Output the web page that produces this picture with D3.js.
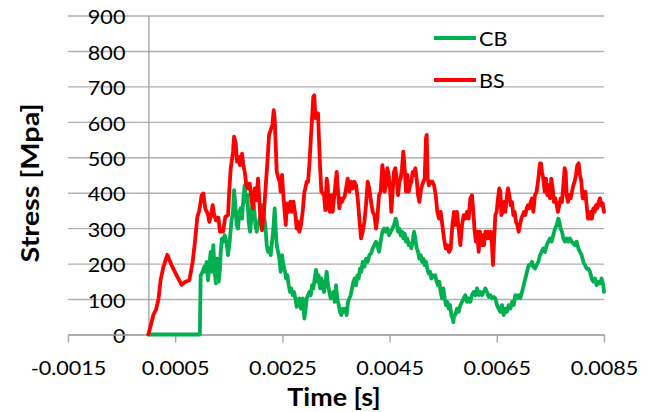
<!DOCTYPE html>
<html>
<head>
<meta charset="utf-8">
<script src="https://cdn.jsdelivr.net/npm/d3@7"></script>
<style>
  html, body { margin: 0; padding: 0; background: #fff; }
  svg { display: block; }
  text { font-family: Lato, "Open Sans", sans-serif; fill: #000; }
</style>
</head>
<body>
<svg id="chart" width="654" height="412"></svg>
<script>
// Time axis ticks (s) and their printed labels
const timeTicks = [-0.0015, 0.0005, 0.0025, 0.0045, 0.0065, 0.0085];
const timeTickLabels = ["-0.0015", "0.0005", "0.0025", "0.0045", "0.0065", "0.0085"];
const stressTicks = [0, 100, 200, 300, 400, 500, 600, 700, 800, 900];

const seriesNames = ["CB", "BS"];
const seriesColors = ["#00B050", "#FF0000"];

// BS stress history: [time in microseconds, stress in MPa]
const bsStress = [
  [0,0],[92,55],[142,70],[188,100],[229,155],[279,190],[353,225],[434,195],[527,167],[621,140],[683,148],[764,153],[826,205],[869,262],[913,332],[950,350],[994,393],[1025,398],[1062,355],[1106,341],[1137,318],[1168,335],[1199,365],[1224,340],[1261,322],[1305,330],[1336,290],
  [1392,290],[1436,332],[1486,337],[1504,393],[1535,468],[1579,515],[1598,558],[1629,540],[1654,487],[1685,501],[1710,478],[1747,510],[1772,478],[1797,459],[1828,421],[1859,412],[1890,426],[1921,384],[1952,356],[1983,412],[2014,379],[2045,440],[2064,393],[2089,327],[2120,294],[2151,337],[2182,403],[2220,487],[2251,563],[2282,577],[2313,591],[2338,633],[2356,610],[2375,536],[2394,459],[2419,445],[2450,431],[2468,403],[2493,450],[2518,393],[2543,346],[2562,309],[2587,370],[2618,346],[2649,375],[2680,346],[2705,375],[2742,337],[2767,299],[2792,318],
  [2816,290],[2847,309],[2878,346],[2910,403],[2928,412],[2953,431],[2978,431],[3003,478],[3028,544],[3053,610],[3077,671],[3096,675],[3115,610],[3140,619],[3165,624],[3177,572],[3202,478],[3227,403],[3252,398],[3276,393],[3301,351],[3326,440],[3345,421],[3364,356],[3388,346],[3413,393],[3438,346],[3463,384],[3488,421],[3513,459],[3538,403],[3563,356],[3587,384],[3612,374],[3637,384],[3662,389],[3687,412],[3718,440],[3749,403],[3780,431],[3811,412],[3843,431],[3874,421],[3905,384],[3936,327],[3967,271],[3998,290],[4029,318],[4060,365],[4091,431],[4122,412],[4154,374],[4185,346],[4216,337],[4247,299],
  [4271,327],[4302,393],[4333,403],[4365,478],[4383,459],[4408,403],[4433,421],[4458,469],[4483,450],[4508,412],[4532,346],[4557,403],[4582,459],[4607,469],[4632,440],[4657,393],[4682,431],[4707,440],[4731,469],[4756,516],[4781,469],[4806,403],[4831,450],[4856,403],[4881,421],[4906,431],[4931,459],[4955,450],[4980,469],[5005,440],[5030,393],[5055,374],[5080,403],[5105,421],[5130,431],[5154,440],[5179,554],[5192,563],[5210,440],[5235,421],[5266,431],[5298,431],[5329,421],[5360,393],[5391,346],[5422,327],[5453,346],[5484,309],[5515,271],[5546,243],[5577,252],[5609,233],[5640,243],[5671,309],[5702,346],
  [5726,309],[5757,346],[5788,299],[5820,252],[5851,309],[5882,337],[5913,327],[5944,346],[5975,327],[6006,384],[6037,393],[6062,346],[6087,290],[6112,262],[6137,290],[6162,233],[6186,290],[6211,252],[6236,280],[6261,252],[6286,290],[6311,271],[6336,290],[6361,271],[6386,290],[6410,252],[6429,196],[6448,262],[6473,337],[6497,346],[6522,384],[6547,412],[6566,403],[6585,337],[6609,346],[6634,374],[6659,346],[6684,384],[6709,412],[6734,393],[6759,365],[6784,374],[6808,337],[6833,346],[6858,318],[6883,309],[6908,290],[6933,309],[6958,327],[6983,337],[7007,346],[7032,337],[7057,356],[7082,365],[7107,356],[7132,374],[7157,384],
  [7181,346],[7212,393],[7243,403],[7275,440],[7306,483],[7324,483],[7343,459],[7368,440],[7393,403],[7418,440],[7442,393],[7467,421],[7492,384],[7517,440],[7542,412],[7567,374],[7592,384],[7617,365],[7641,346],[7666,365],[7691,384],[7716,374],[7741,421],[7766,469],[7785,459],[7803,393],[7828,374],[7853,393],[7878,384],[7903,403],[7928,421],[7952,431],[7977,450],[8002,478],[8027,483],[8052,450],[8077,431],[8102,384],[8127,384],[8152,403],[8176,365],[8201,327],[8226,327],[8251,346],[8276,327],[8301,356],[8326,346],[8351,365],[8375,356],[8400,374],[8425,384],[8450,365],[8475,370],[8500,346]
];

// CB stress history: [time in microseconds, stress in MPa]
const cbStress = [
  [0,0],[960,0],[975,167],[1012,177],[1043,191],[1068,177],[1087,205],[1112,153],[1137,196],[1162,233],[1187,177],[1211,252],[1236,177],[1261,144],[1286,214],[1311,149],[1336,186],
  [1349,233],[1374,271],[1399,262],[1423,280],[1455,262],[1486,224],[1517,262],[1548,318],[1579,346],[1598,407],[1622,365],[1647,309],[1672,299],[1697,346],[1722,356],[1747,327],[1772,384],[1797,421],[1821,374],[1846,393],[1871,318],[1896,290],[1921,327],[1946,384],[1971,360],[1996,309],[2021,290],[2045,309],[2077,327],[2108,337],[2132,365],[2157,332],[2182,309],[2207,252],[2232,233],[2257,243],[2282,224],[2307,262],[2331,299],[2356,356],[2375,299],[2394,252],[2419,233],[2443,214],[2468,177],[2493,224],[2518,196],[2543,182],[2568,158],[2593,167],[2618,139],[2642,120],[2667,130],[2692,111],[2717,120],[2742,102],[2767,78],[2792,83],
  [2816,102],[2847,73],[2878,102],[2910,45],[2928,64],[2953,102],[2978,111],[3003,120],[3028,111],[3053,139],[3077,130],[3102,158],[3127,182],[3152,149],[3177,167],[3202,130],[3227,158],[3252,139],[3276,120],[3301,144],[3326,177],[3351,139],[3376,120],[3401,102],[3426,111],[3451,120],[3476,92],[3500,139],[3525,102],[3550,83],[3575,64],[3600,55],[3625,73],[3650,64],[3675,73],[3699,55],[3724,92],[3749,102],[3774,111],[3799,130],[3824,149],[3849,158],[3874,139],[3898,167],[3923,158],[3948,186],[3973,177],[3998,205],[4029,191],[4060,214],[4091,205],[4122,224],[4154,229],[4185,243],[4216,252],[4247,262],
  [4271,252],[4302,233],[4333,262],[4365,290],[4396,299],[4427,290],[4458,299],[4489,280],[4520,290],[4551,299],[4582,309],[4613,327],[4632,318],[4657,290],[4682,299],[4707,280],[4731,290],[4756,271],[4781,285],[4806,262],[4831,271],[4856,252],[4881,257],[4906,243],[4931,262],[4955,290],[4980,271],[5005,243],[5030,233],[5055,214],[5080,224],[5105,205],[5130,214],[5154,196],[5179,205],[5204,186],[5229,172],[5254,177],[5279,158],[5304,167],[5329,163],[5353,167],[5378,149],[5403,139],[5428,149],[5453,120],[5478,102],[5503,130],[5528,102],[5553,83],[5577,92],[5602,73],[5627,83],[5652,55],[5677,45],[5690,35],[5702,55],
  [5726,55],[5757,73],[5788,64],[5820,83],[5851,92],[5882,102],[5913,111],[5944,92],[5975,102],[6006,92],[6037,111],[6068,120],[6099,111],[6131,130],[6162,111],[6193,120],[6224,111],[6255,120],[6286,130],[6317,120],[6348,106],[6379,111],[6410,102],[6442,106],[6473,102],[6504,83],[6535,73],[6566,64],[6597,83],[6628,55],[6659,73],[6690,64],[6721,83],[6753,73],[6784,92],[6815,83],[6846,111],[6877,102],[6908,111],[6939,102],[6970,120],[7001,139],[7032,158],[7064,177],[7095,196],[7126,196],[7157,205],
  [7181,191],[7212,186],[7243,196],[7275,205],[7306,224],[7337,233],[7368,243],[7399,233],[7430,252],[7461,262],[7492,271],[7523,262],[7554,280],[7586,299],[7617,309],[7648,327],[7666,318],[7691,299],[7716,290],[7741,271],[7772,262],[7803,271],[7834,262],[7865,271],[7897,262],[7928,257],[7959,252],[7990,262],[8021,243],[8052,233],[8083,224],[8114,205],[8145,196],[8176,186],[8208,186],[8239,177],[8270,158],[8301,149],[8332,158],[8363,139],[8394,149],[8425,144],[8456,158],[8487,139],[8500,120]
];

const svg = d3.select("#chart");
const plot = { left: 68, right: 604, top: 15.5, bottom: 334.5 };
const fontSize = 20;
const stretch = 1.08;

const x = d3.scaleLinear().domain([-0.0015, 0.0085]).range([plot.left, plot.right]);
const y = d3.scaleLinear().domain([0, 900]).range([plot.bottom, plot.top]);

// horizontal gridlines across the full plot width
const grid = svg.append("g")
  .attr("transform", `translate(${plot.left},0)`)
  .call(d3.axisLeft(y).tickValues(stressTicks).tickSize(-(plot.right - plot.left)).tickFormat(""));
grid.select(".domain").remove();
grid.selectAll("line").attr("stroke", "#b0b0b0").attr("stroke-width", 1.4);

// vertical value axis sits at t = 0
const yAxis = svg.append("g")
  .attr("transform", `translate(${x(0)},0)`)
  .call(d3.axisLeft(y).tickValues(stressTicks).tickSize(0).tickPadding(0));
yAxis.select(".domain").attr("stroke", "#a6a6a6").attr("stroke-width", 1.4);
yAxis.selectAll("text")
  .attr("x", null).attr("dy", null)
  .attr("text-anchor", "end")
  .attr("dominant-baseline", "central")
  .attr("font-size", fontSize)
  .attr("fill", "#000")
  .attr("transform", `translate(-23,0) scale(${stretch},1)`);

// time axis along stress = 0
const xAxis = svg.append("g")
  .attr("transform", `translate(0,${y(0)})`)
  .call(d3.axisBottom(x).tickValues(timeTicks).tickSize(8).tickSizeOuter(0)
    .tickFormat((d, i) => timeTickLabels[i]));
xAxis.select(".domain").attr("stroke", "#a6a6a6").attr("stroke-width", 1.4);
xAxis.selectAll("line").attr("stroke", "#a6a6a6").attr("stroke-width", 1.4);
xAxis.selectAll("text")
  .attr("y", null).attr("dy", null)
  .attr("dominant-baseline", "central")
  .attr("font-size", fontSize)
  .attr("fill", "#000")
  .attr("transform", `translate(0,32) scale(${stretch},1)`);
svg.selectAll(".tick text").attr("font-family", "Lato, 'Open Sans', sans-serif");

// stress histories
const line = d3.line()
  .x(d => x(d[0] * 1e-6))
  .y(d => y(d[1]));

const series = [cbStress, bsStress];
svg.append("g").selectAll("path")
  .data(series)
  .join("path")
  .attr("d", line)
  .attr("fill", "none")
  .attr("stroke", (d, i) => seriesColors[i])
  .attr("stroke-width", 3.8)
  .attr("stroke-linejoin", "round")
  .attr("stroke-linecap", "round");

// legend
const legend = svg.append("g");
const legendRows = [38, 80];
seriesNames.forEach((name, i) => {
  legend.append("line")
    .attr("x1", 434).attr("x2", 476)
    .attr("y1", legendRows[i]).attr("y2", legendRows[i])
    .attr("stroke", seriesColors[i]).attr("stroke-width", 3.8);
  legend.append("text")
    .attr("dominant-baseline", "central")
    .attr("font-size", fontSize)
    .attr("transform", `translate(479,${legendRows[i]}) scale(${stretch},1)`)
    .text(name);
});

// axis titles
svg.append("text")
  .attr("text-anchor", "middle")
  .attr("dominant-baseline", "central")
  .attr("font-size", 24)
  .attr("font-weight", "bold")
  .attr("transform", `translate(334,397) scale(1.12,1)`)
  .text("Time [s]");

svg.append("text")
  .attr("text-anchor", "middle")
  .attr("dominant-baseline", "central")
  .attr("font-size", 24)
  .attr("font-weight", "bold")
  .attr("transform", `translate(30,183) rotate(-90) scale(1.2,1)`)
  .text("Stress [Mpa]");
</script>
</body>
</html>
